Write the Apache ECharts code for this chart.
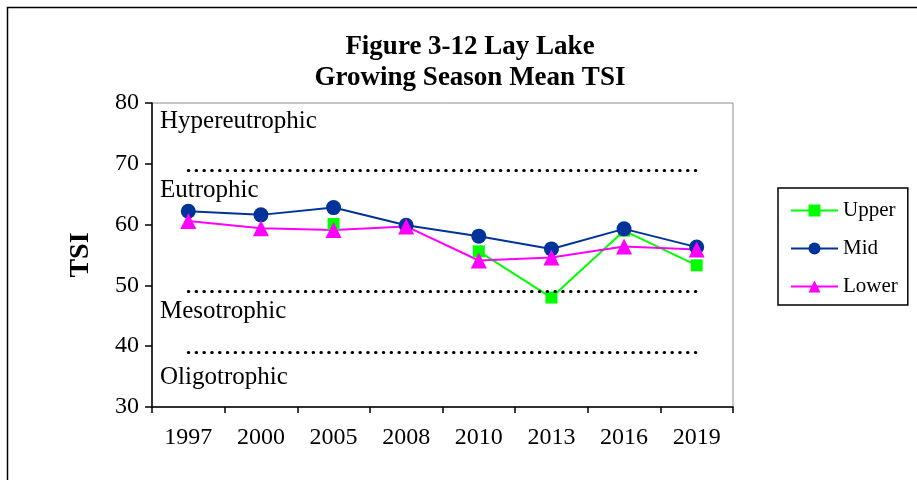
<!DOCTYPE html>
<html>
<head>
<meta charset="utf-8">
<script src="https://cdn.jsdelivr.net/npm/echarts@6/dist/echarts.min.js"></script>
<style>
  html, body { margin: 0; padding: 0; background: #fff; }
  #main { width: 917px; height: 480px; }
</style>
</head>
<body>
<div id="main"></div>
<script>
// data
var years = ['1997', '2000', '2005', '2008', '2010', '2013', '2016', '2019'];
var upper = [null, null, 60.1, null, 55.6, 48.0, 59.0, 53.3];
var mid = [62.2, 61.6, 62.8, 59.9, 58.1, 56.0, 59.3, 56.3];
var lower = [60.6, 59.4, 59.1, 59.7, 54.1, 54.6, 56.4, 55.9];
var thresholds = [69, 49, 39];
var zoneNames = ['Hypereutrophic', 'Eutrophic', 'Mesotrophic', 'Oligotrophic'];
var zoneLabelAt = [77.2, 65.9, 46.0, 35.1];

var font = '"Liberation Serif", "Times New Roman", serif';
var chart = echarts.init(document.getElementById('main'));

var limitLines = [];
thresholds.forEach(function (v) {
  limitLines.push([{ coord: [years[0], v] }, { coord: [years[years.length - 1], v] }]);
});

var option = {
  animation: false,
  title: {
    text: 'Figure 3-12 Lay Lake\nGrowing Season Mean TSI',
    left: 465,
    textAlign: 'center',
    top: 27,
    textStyle: { fontFamily: font, fontWeight: 'bold', fontSize: 27, lineHeight: 31, color: '#000' }
  },
  legend: {
    orient: 'vertical',
    left: 778,
    top: 188,
    itemWidth: 47,
    itemHeight: 15,
    itemGap: 17,
    padding: [12, 10, 8, 12],
    borderColor: '#000',
    borderWidth: 1.5,
    textStyle: { fontFamily: font, fontSize: 21, color: '#000' },
    data: ['Upper', 'Mid', 'Lower']
  },
  grid: {
    left: 152,
    right: 184,
    top: 103,
    bottom: 73,
    show: true,
    borderColor: '#8c8c8c',
    borderWidth: 1
  },
  xAxis: {
    type: 'category',
    data: years,
    boundaryGap: true,
    axisLine: { lineStyle: { color: '#000', width: 1.5 } },
    axisTick: { show: true, length: 6, lineStyle: { color: '#000', width: 1.5 } },
    axisLabel: { fontFamily: font, fontSize: 24, color: '#000', margin: 19 },
    splitLine: { show: false }
  },
  yAxis: {
    type: 'value',
    min: 30,
    max: 80,
    interval: 10,
    name: 'TSI',
    nameLocation: 'middle',
    nameGap: 57,
    nameTextStyle: { fontFamily: font, fontWeight: 'bold', fontSize: 28, color: '#000' },
    axisLine: { show: true, lineStyle: { color: '#000', width: 1.5 } },
    axisTick: { show: true, length: 7, lineStyle: { color: '#000', width: 1.5 } },
    axisLabel: { fontFamily: font, fontSize: 24, color: '#000', margin: 13 },
    splitLine: { show: false }
  },
  series: [
    {
      name: 'Upper',
      type: 'line',
      data: upper,
      connectNulls: false,
      color: '#00ff00',
      symbol: 'rect',
      symbolSize: 12,
      lineStyle: { width: 2 },
      markLine: {
        silent: true,
        symbol: 'none',
        label: { show: false },
        lineStyle: { color: '#000', width: 3, type: [0.5, 7.3], cap: 'round' },
        data: limitLines
      }
    },
    {
      name: 'Mid',
      type: 'line',
      data: mid,
      color: '#003399',
      symbol: 'circle',
      symbolSize: 15,
      lineStyle: { width: 2 }
    },
    {
      name: 'Lower',
      type: 'line',
      data: lower,
      color: '#ff00ff',
      symbol: 'triangle',
      symbolSize: 16,
      lineStyle: { width: 2 }
    }
  ]
};
chart.setOption(option);

// zone names and outer frame
var graphics = [{
  type: 'rect',
  shape: { x: 7.5, y: 7.5, width: 1000, height: 1000 },
  style: { fill: 'none', stroke: '#000', lineWidth: 1.5 },
  silent: true
}];
zoneNames.forEach(function (name, i) {
  var y = chart.convertToPixel({ yAxisIndex: 0 }, zoneLabelAt[i]);
  graphics.push({
    type: 'text',
    left: 160,
    top: y - 11,
    style: { text: name, font: '25px ' + font, fill: '#000' },
    silent: true
  });
});
chart.setOption({ graphic: graphics });
</script>
</body>
</html>
